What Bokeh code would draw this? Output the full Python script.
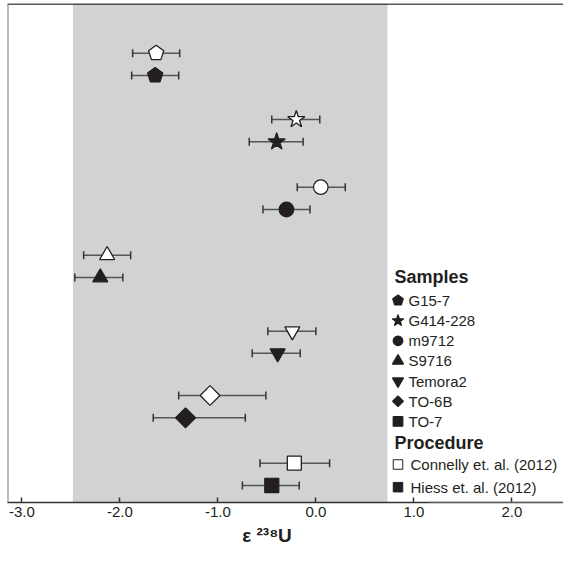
import numpy as np
from bokeh.plotting import figure
from bokeh.models import (Range1d, ColumnDataSource, BoxAnnotation, Span,
                          Arrow, FixedTicker, NumeralTickFormatter)
from bokeh.core.properties import value
from bokeh.embed import file_html
from bokeh.resources import INLINE

# ---------------- data ----------------
samples = ["G15-7", "G414-228", "m9712", "S9716", "Temora2", "TO-6B", "TO-7"]
shapes = ["pentagon", "star", "circle", "triangle", "inverted_triangle", "diamond", "square"]

# Connelly et al. (2012)  (open symbols)
connelly_x = [-1.63, -0.20, 0.05, -2.13, -0.24, -1.08, -0.22]
connelly_lo = [-1.87, -0.45, -0.19, -2.37, -0.49, -1.40, -0.57]
connelly_hi = [-1.39, 0.04, 0.30, -1.89, 0.00, -0.51, 0.14]
# Hiess et al. (2012)  (filled symbols)
hiess_x = [-1.64, -0.40, -0.30, -2.20, -0.39, -1.33, -0.45]
hiess_lo = [-1.88, -0.68, -0.54, -2.46, -0.65, -1.66, -0.75]
hiess_hi = [-1.40, -0.13, -0.06, -1.97, -0.16, -0.72, -0.17]

# vertical row positions of the symbols (rows counted down the page)
connelly_row = [52.7, 119.0, 186.7, 254.7, 330.7, 395.0, 462.7]
hiess_row = [75.0, 141.3, 209.0, 277.0, 352.7, 417.3, 485.0]

band_range = [-2.48, 0.73]
x_ticks = [-3, -2, -1, 0, 1, 2]
x_title = "ε ²³⁸U"
procedures = ["Connelly et. al. (2012)", "Hiess et. al. (2012)"]

# ---------------- styles ----------------
FONT = "Liberation Sans"
INK = "#231f20"
BAR = "#555555"
CAP = "#333333"
W, H = 563, 548
FL, FT, FB = 7, 3, 502          # frame left / top / bottom (canvas px)
X0, X1 = -3.147, 2.527          # x range

marker_style = {  # marker, size, angle
    "star": ("star", 18, 0.0),
    "circle": ("circle", 14.5, 0.0),
    "triangle": ("triangle", 15, 0.0),
    "inverted_triangle": ("inverted_triangle", 15, 0.0),
    "diamond": ("square", 14, np.pi / 4),
    "square": ("square", 14, 0.0),
}
legend_style = {
    "star": ("star", 12, 0.0),
    "circle": ("circle", 9.5, 0.0),
    "triangle": ("triangle", 11, 0.0),
    "inverted_triangle": ("inverted_triangle", 11, 0.0),
    "diamond": ("square", 7.5, np.pi / 4),
    "square": ("square", 9.5, 0.0),
}

p = figure(width=W, height=H,
           x_range=Range1d(X0, X1), y_range=Range1d(FB, FT),
           y_axis_location=None, toolbar_location=None, output_backend="svg",
           min_border_left=FL, min_border_right=0, min_border_top=FT,
           min_border_bottom=H - FB)
p.extra_x_ranges = {"px": Range1d(FL, W)}
p.outline_line_color = None
p.grid.grid_line_color = None
p.background_fill_color = "white"
p.border_fill_color = "white"

# shaded band
p.add_layout(BoxAnnotation(left=band_range[0], right=band_range[1], fill_color="#d1d2d4",
                           fill_alpha=1.0, line_color=None, level="underlay"))

# frame lines (top dark, left grey)
p.add_layout(Span(location=FT + 0.5, dimension="width", line_color=INK, line_width=1.6))
p.add_layout(Span(location=X0, dimension="height", line_color="#7a7a7a", line_width=2))

# error bars
for xs, lo, hi, ys in [(connelly_x, connelly_lo, connelly_hi, connelly_row),
                       (hiess_x, hiess_lo, hiess_hi, hiess_row)]:
    p.segment(x0=lo, y0=ys, x1=hi, y1=ys, line_color=BAR, line_width=1.6)
    p.scatter(x=lo + hi, y=ys + ys, marker="dash", size=8, angle=np.pi / 2,
              line_color=CAP, line_width=1.5)

# symbols
def draw_symbols(xs, ys, fill, styles, radius, x_range_name="default"):
    idx = [i for i, s in enumerate(shapes) if s != "pentagon"]
    src = ColumnDataSource(dict(
        x=[xs[i] for i in idx], y=[ys[i] for i in idx],
        marker=[styles[shapes[i]][0] for i in idx],
        size=[styles[shapes[i]][1] for i in idx],
        angle=[styles[shapes[i]][2] for i in idx]))
    p.scatter(x="x", y="y", marker="marker", size="size", angle="angle", source=src,
              fill_color=fill, line_color=INK, line_width=1.3, x_range_name=x_range_name)
    pi_ = shapes.index("pentagon")
    p.ngon(x=[xs[pi_]], y=[ys[pi_]], radius=radius, radius_units="screen", n=5,
           angle=0.0, fill_color=fill, line_color=INK, line_width=1.3,
           x_range_name=x_range_name)

draw_symbols(connelly_x, connelly_row, "white", marker_style, 8)
draw_symbols(hiess_x, hiess_row, INK, marker_style, 8)

# x axis
ax = p.xaxis[0]
ax.ticker = FixedTicker(ticks=x_ticks)
ax.formatter = NumeralTickFormatter(format="0.0")
ax.minor_tick_line_color = None
ax.major_tick_in = 5
ax.major_tick_out = 0
ax.major_tick_line_color = CAP
ax.major_tick_line_width = 1.5
ax.axis_line_color = CAP
ax.axis_line_width = 1.6
ax.major_label_standoff = 4
ax.major_label_text_font = FONT
ax.major_label_text_font_size = "15px"
ax.major_label_text_color = INK
# trailing no-break spaces move the centred title slightly left, as in the reference
ax.axis_label = x_title + "\u00a0" * 7
ax.axis_label_standoff = 5
ax.axis_label_text_font = FONT
ax.axis_label_text_font_style = "bold"
ax.axis_label_text_font_size = "19px"
ax.axis_label_text_color = INK
p.add_layout(Arrow(x_start=1.15, y_start=FB, x_end=X1, y_end=FB, end=None,
                   line_color="#8a8a8a", line_width=1.6))

# legend
LEG_X, MARK_X, TXT_X = 394, 397.5, 408
title_y = [276.7, 442.7]
sample_rows = [300 + 20.15 * i for i in range(len(samples))]
proc_rows = [464.0, 486.7]
p.text(x=[LEG_X, LEG_X], y=title_y, text=["Samples", "Procedure"], x_range_name="px",
       text_font=value(FONT), text_font_style="bold", text_font_size="18px",
       text_baseline="middle", text_color=INK)
p.text(x=[TXT_X] * len(samples), y=sample_rows, text=samples, x_range_name="px",
       text_font=value(FONT), text_font_size="15px", text_baseline="middle", text_color=INK)
draw_symbols([MARK_X] * len(samples), sample_rows, INK, legend_style, 5.5, x_range_name="px")
p.text(x=[TXT_X + 2] * 2, y=proc_rows, text=procedures, x_range_name="px",
       text_font=value(FONT), text_font_size="15px", text_baseline="middle", text_color=INK)
p.scatter(x=[MARK_X] * 2, y=proc_rows, marker="square", size=9.5, fill_color=["white", INK],
          line_color=INK, line_width=1.0, x_range_name="px")

open("out.html", "w").write(file_html(p, INLINE))
